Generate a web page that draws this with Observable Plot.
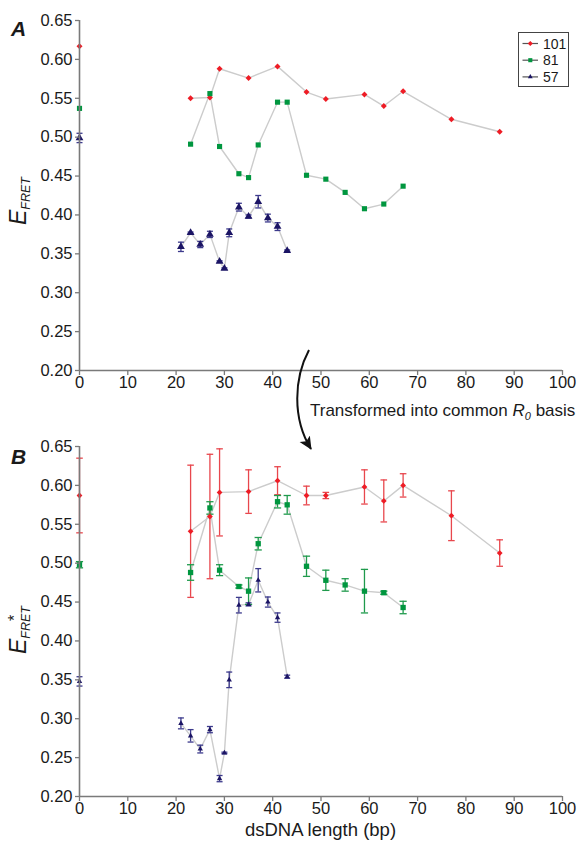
<!DOCTYPE html>
<html>
<head>
<meta charset="utf-8">
<script src="https://cdn.jsdelivr.net/npm/d3@7"></script>
<script src="https://cdn.jsdelivr.net/npm/@observablehq/plot@0.6"></script>
<style>
  html, body { margin: 0; padding: 0; background: #fff; }
  body { font-family: "Liberation Sans", Arial, sans-serif; color: #1a1a1a; }
  #wrap { position: relative; width: 586px; height: 843px; overflow: hidden; }
  .panel { position: absolute; left: 0; }
  .letter { position: absolute; font-weight: bold; font-style: italic; font-size: 21px; line-height: 1; }
  .ylab { position: absolute; white-space: nowrap; line-height: 1; transform: translate(-50%, -50%) rotate(-90deg); }
  .ylab .E { font-style: italic; font-size: 23px; }
  .ylab .sub { font-style: italic; font-size: 12.5px; position: relative; top: 4px; }
  .ylab .star { position: absolute; font-size: 16px; }
  #note { position: absolute; left: 310px; top: 402px; font-size: 17px; line-height: 1; white-space: nowrap; }
  #note i.sub0 { font-size: 11px; position: relative; top: 4px; }
  #xlab { position: absolute; left: 79px; width: 483px; top: 821px; text-align: center; font-size: 18.5px; line-height: 1; }
  #legend { position: absolute; left: 518px; top: 32px; width: 49px; height: 53px; border: 1px solid #444; background: #fff; }
  #legend svg { position: absolute; left: 0; top: 0; }
  #overlay { position: absolute; left: 0; top: 0; pointer-events: none; }
</style>
</head>
<body>
<div id="wrap">
  <div id="panelA" class="panel" style="top:0px"></div>
  <div id="panelB" class="panel" style="top:400px"></div>
  <div class="letter" style="left:11px; top:18px">A</div>
  <div class="letter" style="left:11px; top:446px">B</div>
  <div class="ylab" style="left:18px; top:201px"><span class="E">E</span><span class="sub">FRET</span></div>
  <div class="ylab" style="left:18px; top:630px"><span class="E">E</span><span class="sub">FRET</span><span class="star" style="left:33px; top:0px">*</span></div>
  <div id="note">Transformed into common <i>R</i><i class="sub0">0</i> basis</div>
  <div id="xlab">dsDNA length (bp)</div>
  <div id="legend"></div>
  <svg id="overlay" width="586" height="843">
    <defs>
      <marker id="head" markerUnits="userSpaceOnUse" markerWidth="16" markerHeight="16" refX="12" refY="6" orient="auto">
        <path d="M0,0 L13,6 L0,12 L3,6 Z" fill="#111"></path>
      </marker>
    </defs>
    <path d="M309,350 C294,378 292,418 311,449" fill="none" stroke="#111" stroke-width="2" marker-end="url(#head)"></path>
  </svg>
</div>
<script>
// ---------- data ----------
const seriesNames = ["101", "81", "57"];
const xTicks = [0, 10, 20, 30, 40, 50, 60, 70, 80, 90, 100];
const yTicks = [0.20, 0.25, 0.30, 0.35, 0.40, 0.45, 0.50, 0.55, 0.60, 0.65];

// series 101
const len101  = [0, 23, 27, 29, 35, 41, 47, 51, 59, 63, 67, 77, 87];
const effA101 = [0.617, 0.550, 0.551, 0.588, 0.576, 0.591, 0.558, 0.549, 0.555, 0.540, 0.559, 0.523, 0.507];
const errA101 = [0, 0, 0, 0, 0, 0, 0, 0, 0, 0, 0, 0, 0];
const effB101 = [0.587, 0.541, 0.560, 0.591, 0.592, 0.606, 0.587, 0.587, 0.598, 0.580, 0.600, 0.561, 0.513];
const errB101 = [0.048, 0.085, 0.080, 0.056, 0.028, 0.018, 0.012, 0.004, 0.022, 0.027, 0.015, 0.032, 0.017];

// series 81
const len81  = [0, 23, 27, 29, 33, 35, 37, 41, 43, 47, 51, 55, 59, 63, 67];
const effA81 = [0.537, 0.491, 0.556, 0.488, 0.453, 0.448, 0.490, 0.545, 0.545, 0.451, 0.446, 0.429, 0.408, 0.414, 0.437];
const errA81 = [0, 0, 0, 0, 0, 0, 0, 0, 0, 0, 0, 0, 0, 0, 0];
const effB81 = [0.498, 0.488, 0.571, 0.491, 0.470, 0.464, 0.525, 0.579, 0.575, 0.496, 0.478, 0.472, 0.464, 0.462, 0.443];
const errB81 = [0.004, 0.010, 0.008, 0.007, 0.002, 0.017, 0.008, 0.008, 0.012, 0.013, 0.013, 0.008, 0.028, 0.002, 0.008];

// series 57
const len57  = [0, 21, 23, 25, 27, 29, 30, 31, 33, 35, 37, 39, 41, 43];
const effA57 = [0.499, 0.359, 0.377, 0.362, 0.375, 0.340, 0.331, 0.377, 0.410, 0.398, 0.417, 0.396, 0.385, 0.354];
const errA57 = [0.006, 0.006, 0.001, 0.004, 0.004, 0.001, 0.001, 0.005, 0.005, 0.002, 0.008, 0.005, 0.005, 0.001];
const effB57 = [0.348, 0.294, 0.278, 0.261, 0.286, 0.223, 0.256, 0.350, 0.446, 0.447, 0.478, 0.450, 0.430, 0.354];
const errB57 = [0.006, 0.007, 0.008, 0.005, 0.004, 0.004, 0.001, 0.010, 0.010, 0.002, 0.015, 0.0065, 0.006, 0.002];

// ---------- styles ----------
const styles = {
  "101": {fill: "#ee1c25", err: "#e8474d", symbol: "diamond2", rA: 2.7, rB: 2.6, cap: 3.3},
  "81":  {fill: "#00963f", err: "#1f9a4c", symbol: "square",   rA: 2.9, rB: 3.0, cap: 3.6},
  "57":  {fill: "#1b1464", err: "#3c3a8c", symbol: "triangle", rA: 2.9, rB: 2.0, cap: 3.0}
};
const axisColor = "#7a7a7a";
const lineColor = "#cccccc";

function rows(series, lens, effs, errs) {
  return lens.map((len, i) => ({series, len, eff: effs[i], err: errs[i]}));
}

const dataA = {
  "101": rows("101", len101, effA101, errA101),
  "81":  rows("81",  len81,  effA81,  errA81),
  "57":  rows("57",  len57,  effA57,  errA57)
};
const dataB = {
  "101": rows("101", len101, effB101, errB101),
  "81":  rows("81",  len81,  effB81,  errB81),
  "57":  rows("57",  len57,  effB57,  errB57)
};

const capSymbol = {
  draw(ctx, size) {
    const w = Math.sqrt(size / Math.PI);
    ctx.moveTo(-w, 0);
    ctx.lineTo(w, 0);
  }
};

function panel(data, opts, rKey) {
  // the 0 bp reference points are not joined to the series lines
  const joined = seriesNames.flatMap(s => data[s].filter(d => d.len > 0));
  const errMarks = seriesNames.flatMap(s => {
    const st = styles[s];
    const withErr = data[s].filter(d => d.err > 0);
    return [
      Plot.ruleX(withErr, {x: "len", y1: d => d.eff - d.err, y2: d => d.eff + d.err, stroke: st.err, strokeWidth: 1.3}),
      Plot.dot(withErr, {x: "len", y: d => d.eff - d.err, symbol: capSymbol, r: st.cap, stroke: st.err, fill: "none", strokeWidth: 1.3}),
      Plot.dot(withErr, {x: "len", y: d => d.eff + d.err, symbol: capSymbol, r: st.cap, stroke: st.err, fill: "none", strokeWidth: 1.3})
    ];
  });
  const dotMarks = seriesNames.map(s => {
    const st = styles[s];
    return Plot.dot(data[s], {x: "len", y: "eff", symbol: st.symbol, r: st[rKey], fill: st.fill, stroke: "none"});
  });
  return Plot.plot({
    width: 586,
    height: opts.height,
    marginLeft: 79, marginRight: 24,
    marginTop: opts.marginTop, marginBottom: opts.marginBottom,
    x: {domain: [0, 100], label: null},
    y: {domain: [0.2, 0.65], label: null},
    style: {fontFamily: '"Liberation Sans", Arial, sans-serif', background: "transparent", overflow: "visible"},
    marks: [
      Plot.line(joined, {x: "len", y: "eff", z: "series", stroke: lineColor, strokeWidth: 1.4}),
      ...errMarks,
      ...dotMarks,
      Plot.ruleX([0], {stroke: axisColor, strokeWidth: 1.6}),
      Plot.ruleY([0.2], {stroke: axisColor, strokeWidth: 1.6}),
      Plot.axisX({ticks: xTicks, tickFormat: d3.format("d"), tickSize: 5, tickPadding: 1, fontSize: 16.5, stroke: axisColor, strokeWidth: 1.3, fill: "#1a1a1a"}),
      Plot.axisY({ticks: yTicks, tickFormat: d3.format(".2f"), tickSize: 4, tickPadding: 3, fontSize: 16.5, stroke: axisColor, strokeWidth: 1.3, fill: "#1a1a1a"})
    ]
  });
}

document.getElementById("panelA").appendChild(panel(dataA, {height: 400, marginTop: 20, marginBottom: 30}, "rA"));
document.getElementById("panelB").appendChild(panel(dataB, {height: 443, marginTop: 46, marginBottom: 47}, "rB"));

// ---------- legend ----------
const legend = d3.select("#legend");
const lsvg = legend.append("svg").attr("width", 49).attr("height", 53);
seriesNames.forEach((s, i) => {
  const st = styles[s];
  const cy = 10.5 + i * 16.7;
  lsvg.append("line").attr("x1", 3.5).attr("x2", 19).attr("y1", cy).attr("y2", cy)
    .attr("stroke", "#555").attr("stroke-width", 1.2);
  const sym = {diamond2: d3.symbolDiamond2, square: d3.symbolSquare, triangle: d3.symbolTriangle}[st.symbol];
  lsvg.append("path").attr("d", d3.symbol(sym, Math.PI * (s === "57" ? 1.8 : 2.3) ** 2)())
    .attr("transform", `translate(11.3,${cy})`).attr("fill", st.fill);
  lsvg.append("text").attr("x", 24).attr("y", cy).attr("dy", "0.36em")
    .attr("font-size", 14).attr("font-family", '"Liberation Sans", Arial, sans-serif')
    .attr("fill", "#1a1a1a").text(s);
});
</script>
</body>
</html>
